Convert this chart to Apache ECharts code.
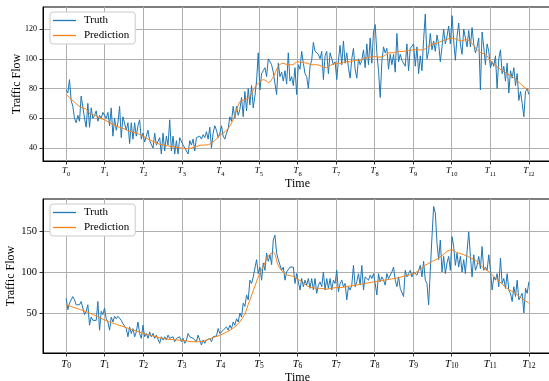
<!DOCTYPE html>
<html>
<head>
<meta charset="utf-8">
<script src="https://cdn.jsdelivr.net/npm/echarts@6/dist/echarts.min.js"></script>
<style>
  html, body { margin: 0; padding: 0; background: #fff; }
  #chart { width: 549px; height: 381px; }
</style>
</head>
<body>
<div id="chart"></div>
<script>
// ticks T0 .. T12
const tickValues = [0, 1, 2, 3, 4, 5, 6, 7, 8, 9, 10, 11, 12];
const tickLabels = ['0', '1', '2', '3', '4', '5', '6', '7', '8', '9', '10', '11', '12'];
const seriesNames = ['Truth', 'Prediction'];

// top panel
const truthTop = [
  79, 77, 86, 72, 68, 60, 57, 62, 58, 75,
  74, 60, 54, 70, 54, 67, 60, 62, 65, 58,
  62, 60, 64, 63, 60, 64, 55, 67, 48, 60,
  52, 57, 68, 47, 61, 60, 52, 57, 43, 57,
  46, 57, 48, 55, 59, 46, 50, 44, 48, 52,
  45, 46, 40, 50, 42, 43, 47, 36, 50, 38,
  48, 42, 59, 38, 48, 36, 45, 36, 47, 48,
  42, 40, 40, 36, 45, 42, 46, 38, 47, 46,
  48, 46, 49, 47, 51, 46, 54, 40, 50, 55,
  52, 47, 50, 55, 48, 46, 50, 53, 61, 58,
  68, 60, 68, 62, 66, 74, 61, 78, 65, 80,
  69, 82, 67, 75, 85, 104, 79, 90, 92, 94,
  88, 100, 101, 96, 91, 92, 76, 97,
  88, 91, 85, 92, 83, 104, 85, 88, 82, 94,
  76, 96, 93, 105, 97, 90, 88, 80, 95, 99,
  111, 105, 104, 103, 100, 105, 86, 102, 105, 90,
  104, 100, 96, 98, 86, 99, 109, 96, 112, 97,
  104, 94, 87, 100, 107, 93, 87, 100, 96, 99,
  106, 94, 110, 96, 114, 97, 118, 123, 104, 92,
  74, 98, 108, 104, 107, 93, 103, 96, 103, 91,
  117, 98, 103, 99, 100, 95, 110, 92, 107, 108,
  110, 95, 108, 90, 102, 92, 113, 130, 100, 105,
  117, 106, 112, 105, 116, 110, 98, 108, 120, 110,
  115, 122, 110, 129, 112, 99, 115, 124, 110, 103,
  120, 114, 108, 119, 108, 121, 110, 104, 108, 114,
  79, 118, 108, 96, 110, 105, 94, 98, 95, 102,
  80, 100, 106, 90, 95, 85, 97, 77, 92, 87,
  94, 82, 90, 72, 78, 70, 61, 78, 80, 76
];
const predTop = [
  76, 73, 70, 67.5, 66.5, 63, 62, 60, 59, 57,
  55.5, 54, 53, 51.5, 50.5, 49.5, 48, 46, 44.5, 43,
  42, 41.5, 41, 40.5, 40, 39.5, 40, 41, 42, 42,
  43, 45.5, 49, 51, 55, 62, 71, 72.5, 74, 80,
  84, 86, 84, 88, 95, 97, 96, 96, 98, 97.5,
  97, 96, 96, 95, 94, 96, 97, 97, 98, 98,
  99, 99, 100.5, 101, 101.5, 101, 102, 104, 104, 105,
  105, 105.5, 106, 106, 106, 108, 110, 110.5, 112, 113,
  114, 113, 112, 113, 111, 107, 104, 103, 99, 96,
  93, 91, 89, 87, 84, 81, 79
];
const yTicksTop = [40, 60, 80, 100, 120];

// bottom panel
const truthBottom = [
  68, 54, 62, 60, 70, 66, 60, 62, 60, 64,
  66, 48, 52, 60, 35, 45, 41, 43, 41, 64,
  29, 52, 48, 56, 43, 39, 29, 45, 39, 46,
  43, 46, 46, 41, 37, 35, 31, 21, 33, 25,
  31, 21, 27, 39, 25, 19, 35, 21, 25, 19,
  27, 21, 25, 19, 23, 21, 13, 21, 17, 21,
  17, 23, 19, 17, 21, 15, 19, 17, 21, 15,
  19, 13, 17, 25, 21, 23, 19, 21, 15, 23,
  17, 11, 17, 13, 17, 15, 19, 15, 21, 19,
  22, 31, 25, 27, 29, 27, 33, 29, 35, 31,
  39, 35, 43, 39, 50, 45, 62, 58, 72, 66,
  90, 86, 94, 96, 115, 98, 106, 90, 111, 102,
  123, 113, 121, 109, 139, 145, 123, 115,
  113, 102, 106, 90, 100, 98, 106, 104, 106, 86,
  98, 100, 78, 92, 82, 90, 84, 92, 80, 92,
  78, 92, 74, 84, 88, 82, 100, 78, 92, 80,
  92, 78, 90, 86, 102, 76, 86, 90, 82, 86,
  66, 82, 78, 84, 108, 82, 88, 98, 84, 108,
  78, 94, 92, 90, 96, 92, 98, 86, 72, 98,
  88, 94, 90, 84, 98, 92, 90, 100, 106, 90,
  82, 94, 80, 82, 70, 102, 94, 98, 102, 94,
  100, 102, 96, 102, 108, 94, 113, 90, 86, 60,
  102, 143, 180, 172, 135, 115, 139, 100, 119, 98,
  111, 119, 102, 143, 131, 108, 123, 106, 119, 100,
  115, 98, 125, 149, 119, 94, 121, 102, 108, 119,
  104, 131, 102, 106, 102, 121, 102, 78, 94, 90,
  98, 82, 117, 86, 92, 80, 98, 78, 74, 64,
  82, 70, 90, 66, 70, 74, 50, 80, 74, 88
];
const predBottom = [
  60, 58, 56, 54, 52, 49.5, 47, 44, 41.5, 39,
  37, 35, 33, 31, 29, 27, 25, 23.5, 22, 20.5,
  19, 18, 17.5, 17, 17, 16, 15, 15, 15, 16.5,
  19, 21, 23, 26, 29, 33, 39, 48, 64, 80,
  96, 108, 120, 124, 108, 100, 96, 95, 91, 88,
  83, 81, 80, 80, 79, 80, 81, 81, 82, 83,
  84, 85, 86, 87, 88, 89, 90, 91, 92, 93,
  95, 96, 98, 101, 106, 110, 113, 116, 120, 125,
  127, 124, 122, 120, 117, 114, 108, 103, 99, 93,
  88, 82, 78, 75, 70, 66, 62
];
const yTicksBottom = [50, 100, 150];

const colors = ['#1f77b4', '#ff7f0e'];
const FONT = 'Liberation Serif';

// spread the samples evenly over T0..T12
function toPairs(values) {
  const step = 12 / (values.length - 1);
  return values.map((v, i) => [i * step, v]);
}

function xAxisFor(gridIndex, fs, gap) {
  return {
    type: 'value',
    gridIndex: gridIndex,
    min: -0.6,
    max: 12.6,
    name: 'Time',
    nameLocation: 'middle',
    nameGap: gap,
    nameTextStyle: { fontFamily: FONT, fontSize: 12, color: '#000' },
    axisLine: { show: true, onZero: false, lineStyle: { color: '#000', width: 1 } },
    axisTick: { show: true, length: 3.5, customValues: tickValues, lineStyle: { color: '#000', width: 0.8 } },
    axisLabel: {
      customValues: tickValues,
      margin: 4,
      formatter: function (v) { return '{t|T}{s|' + tickLabels[v] + '}'; },
      rich: {
        t: { fontFamily: FONT, fontStyle: 'italic', fontSize: fs, color: '#000', lineHeight: fs + 3 },
        s: { fontFamily: FONT, fontSize: fs * 0.72, color: '#000', verticalAlign: 'bottom', lineHeight: fs * 0.6 }
      }
    },
    splitLine: { show: true, lineStyle: { color: '#b0b0b0', width: 1 } }
  };
}

function yAxisFor(gridIndex, min, max, ticks, fs, gap) {
  return {
    type: 'value',
    gridIndex: gridIndex,
    min: min,
    max: max,
    name: 'Traffic Flow',
    nameLocation: 'middle',
    nameGap: gap,
    nameMoveOverlap: false,
    nameTextStyle: { fontFamily: FONT, fontSize: 12, color: '#000' },
    axisLine: { show: true, onZero: false, lineStyle: { color: '#000', width: 1 } },
    axisTick: { show: true, length: 3.5, customValues: ticks, lineStyle: { color: '#000', width: 0.8 } },
    axisLabel: { customValues: ticks, margin: 6, fontFamily: FONT, fontSize: fs, color: '#000' },
    splitLine: { show: true, lineStyle: { color: '#b0b0b0', width: 1 } }
  };
}

function legendAt(top) {
  return {
    left: 50,
    top: top,
    orient: 'vertical',
    data: seriesNames,
    icon: 'rect',
    itemWidth: 23,
    itemHeight: 1.3,
    itemGap: 4,
    padding: [3, 6, 3, 3],
    backgroundColor: '#fff',
    borderColor: '#cccccc',
    borderWidth: 1,
    borderRadius: 3,
    textStyle: { fontFamily: FONT, fontSize: 11, color: '#000', padding: [0, 0, 0, 3] }
  };
}

function lineSeries(name, data, axisIndex, color, smooth, z) {
  return {
    name: name,
    type: 'line',
    xAxisIndex: axisIndex,
    yAxisIndex: axisIndex,
    data: toPairs(data),
    symbol: 'none',
    showSymbol: false,
    smooth: smooth,
    lineStyle: { color: color, width: 1 },
    itemStyle: { color: color },
    z: z
  };
}

const chart = echarts.init(document.getElementById('chart'));
chart.setOption({
  animation: false,
  backgroundColor: '#fff',
  grid: [
    { left: 43, top: 7, right: -3, height: 154, show: true, borderColor: '#000', borderWidth: 1, outerBoundsMode: 'none', containLabel: false },
    { left: 43, top: 199, right: -3, height: 154, show: true, borderColor: '#000', borderWidth: 1, outerBoundsMode: 'none', containLabel: false }
  ],
  legend: [legendAt(12), legendAt(204)],
  xAxis: [xAxisFor(0, 9, 15), xAxisFor(1, 10.5, 17)],
  yAxis: [
    yAxisFor(0, 31.3, 134.8, yTicksTop, 8, 20),
    yAxisFor(1, 1.2, 189, yTicksBottom, 10.5, 26)
  ],
  series: [
    lineSeries(seriesNames[0], truthTop, 0, colors[0], false, 2),
    lineSeries(seriesNames[1], predTop, 0, colors[1], 0.3, 3),
    lineSeries(seriesNames[0], truthBottom, 1, colors[0], false, 2),
    lineSeries(seriesNames[1], predBottom, 1, colors[1], 0.3, 3)
  ]
});
</script>
</body>
</html>
